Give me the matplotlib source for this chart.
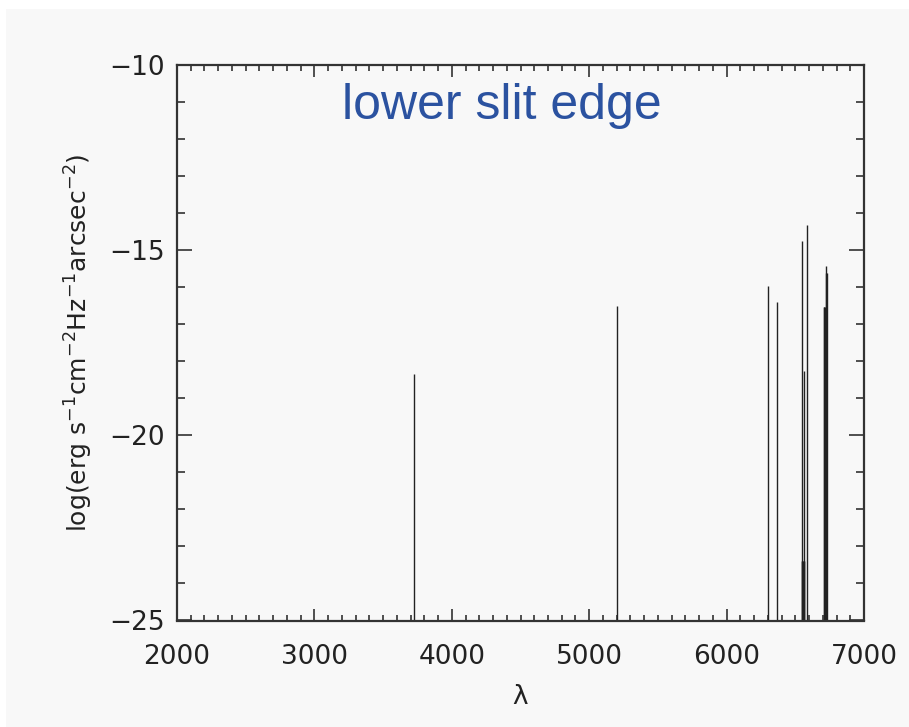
import matplotlib
matplotlib.use('Agg')
import matplotlib.pyplot as plt
from matplotlib.patches import Rectangle
from matplotlib.ticker import MultipleLocator

# emission lines: wavelength (A) and log flux at the peak
wavelength = [3727, 5200, 6300, 6364,
              6546, 6551, 6556, 6561, 6566,
              6548, 6563, 6584,
              6706, 6711, 6716, 6721, 6726, 6731]
logflux = [-18.35, -16.5, -15.96, -16.41,
           -23.4, -23.4, -23.4, -23.4, -23.4,
           -14.76, -18.26, -14.31,
           -16.53, -16.53, -16.53, -15.42, -15.61, -15.61]

floor = -25
xticks = [2000, 3000, 4000, 5000, 6000, 7000]
yticks = [-25, -20, -15, -10]

fig = plt.figure(figsize=(9.09, 7.27), dpi=100, facecolor='white')
# light grey panel behind everything
fig.patches.append(Rectangle((6 / 909, 0), 1, 1 - 9 / 727, transform=fig.transFigure,
                             facecolor='#f8f8f8', edgecolor='none', zorder=-10))

ax = fig.add_axes([177 / 909, 1 - 620.5 / 727, 687 / 909, 555.5 / 727])
ax.set_facecolor('#f8f8f8')

ax.vlines(wavelength, floor, logflux, colors='#222222', linewidth=1.0)

ax.set_xlim(2000, 7000)
ax.set_ylim(-25, -10)
ax.set_xticks(xticks)
ax.set_yticks(yticks)
ax.xaxis.set_minor_locator(MultipleLocator(100))
ax.yaxis.set_minor_locator(MultipleLocator(1))

for s in ax.spines.values():
    s.set_linewidth(1.6)
    s.set_color('#333333')

ax.tick_params(which='both', direction='in', top=True, right=True, color='#333333', width=1.2)
ax.tick_params(axis='x', which='major', length=8.6, pad=17, labelsize=19, labelcolor='#222222')
ax.tick_params(axis='x', which='minor', length=4.3)
ax.tick_params(axis='y', which='major', length=10.8, pad=9, labelsize=19, labelcolor='#222222')
ax.tick_params(axis='y', which='minor', length=5.8)

ax.set_xlabel('λ', fontsize=19, color='#222222', labelpad=10)
ax.set_ylabel(r'log(erg s$^{-1}$cm$^{-2}$Hz$^{-1}$arcsec$^{-2}$)', fontsize=18,
              color='#222222', labelpad=10)

fig.text(502 / 909, 1 - 119 / 727, 'lower slit edge', ha='center', va='baseline',
         fontsize=36, color='#2b52a0', family='Liberation Sans')

fig.savefig('out.png', dpi=100, facecolor=fig.get_facecolor())
